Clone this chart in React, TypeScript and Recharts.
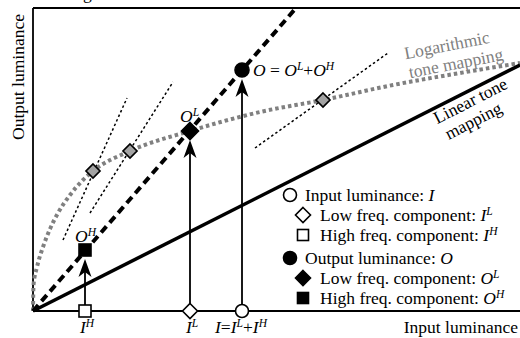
import React from 'react';
import { ComposedChart, Line, Scatter, XAxis, YAxis, ReferenceLine } from 'recharts';

const W = 520;
const H = 338;
const SERIF = "'Liberation Serif', 'Times New Roman', serif";
const FS = 17.5;
const GRAY = '#808080';

// axis extents (input luminance on x, output luminance on y)
const xMax = 487;
const yMax = 303;

const linearMap = [{ x: 0, y: 0 }, { x: 487, y: 246 }];
const combinedMap = [{ x: 0, y: 0 }, { x: 263, y: 303 }];
const logMap = [
    { x: 0, y: 0 }, { x: 0.5, y: 26 }, { x: 4, y: 44 }, { x: 10, y: 64 }, { x: 17, y: 82 },
    { x: 25, y: 98 }, { x: 37, y: 116 }, { x: 50, y: 131 }, { x: 60, y: 140 }, { x: 97, y: 160 },
    { x: 157, y: 180 }, { x: 227, y: 199 }, { x: 290, y: 211 }, { x: 360, y: 226 },
    { x: 427, y: 238 }, { x: 487, y: 248 },
];
const logSamples = [{ x: 60, y: 140 }, { x: 97, y: 160 }, { x: 290, y: 211 }];
const tangents = [
    [{ x: 30, y: 71 }, { x: 94, y: 213 }],
    [{ x: 57, y: 98 }, { x: 140, y: 229 }],
    [{ x: 222, y: 163 }, { x: 355, y: 258 }],
];
const inputs = [
    { id: 'IH', x: 52, y: 0 },
    { id: 'IL', x: 157, y: 0 },
    { id: 'I', x: 209, y: 0 },
];
const outputs = [
    { id: 'OH', x: 52, y: 61 },
    { id: 'OL', x: 157, y: 180 },
    { id: 'O', x: 209, y: 241 },
];

type Seg = string | { i: string } | { sup: string };

const Rich = ({ x, y, segs, anchor = 'start', fill = '#000', size = FS, transform }: any) => {
    let raised = false;
    return (
        <text x={x} y={y} textAnchor={anchor} fontFamily={SERIF} fontSize={size} fill={fill} transform={transform}>
            {segs.map((s: Seg, k: number) => {
                if (typeof s === 'string' || 'i' in s) {
                    const dy = raised ? 6 : 0;
                    raised = false;
                    const italic = typeof s !== 'string';
                    return (
                        <tspan key={k} dy={dy} fontStyle={italic ? 'italic' : 'normal'}>
                            {typeof s === 'string' ? s : s.i}
                        </tspan>
                    );
                }
                const dy = raised ? 0 : -6;
                raised = true;
                return (
                    <tspan key={k} dy={dy} fontSize={size * 0.66} fontStyle="italic">{s.sup}</tspan>
                );
            })}
        </text>
    );
};

const mark = (kind: string, cx: number, cy: number, r: number, fill: string, sw = 1.6) => {
    if (kind === 'circle') return <circle cx={cx} cy={cy} r={r} fill={fill} stroke="#000" strokeWidth={sw} />;
    if (kind === 'square')
        return <rect x={cx - r} y={cy - r} width={2 * r} height={2 * r} fill={fill} stroke="#000" strokeWidth={sw} />;
    return (
        <path
            d={`M${cx},${cy - r}L${cx + r},${cy}L${cx},${cy + r}L${cx - r},${cy}Z`}
            fill={fill} stroke="#000" strokeWidth={sw} strokeLinejoin="miter"
        />
    );
};

const labels: Record<string, Seg[]> = {
    IH: [{ i: 'I' }, { sup: 'H' }],
    IL: [{ i: 'I' }, { sup: 'L' }],
    I: [{ i: 'I' }, '=', { i: 'I' }, { sup: 'L' }, '+', { i: 'I' }, { sup: 'H' }],
    OH: [{ i: 'O' }, { sup: 'H' }],
    OL: [{ i: 'O' }, { sup: 'L' }],
    O: [{ i: 'O' }, ' = ', { i: 'O' }, { sup: 'L' }, '+', { i: 'O' }, { sup: 'H' }],
};

const InputMark = ({ cx, cy, payload }: any) => {
    const id = payload.id;
    const kind = id === 'IH' ? 'square' : id === 'IL' ? 'diamond' : 'circle';
    const r = id === 'IH' ? 6 : id === 'IL' ? 7.5 : 6.5;
    return (
        <g>
            {mark(kind, cx, cy, r, '#fff')}
            {id === 'I'
                ? <Rich x={cx - 27} y={cy + 22} segs={labels[id]} />
                : <Rich x={cx + 2} y={cy + 22} anchor="middle" segs={labels[id]} />}
        </g>
    );
};

const OutputMark = ({ cx, cy, payload }: any) => {
    const id = payload.id;
    const kind = id === 'OH' ? 'square' : id === 'OL' ? 'diamond' : 'circle';
    const r = id === 'OH' ? 6 : id === 'OL' ? 8.5 : 7;
    return (
        <g>
            {mark(kind, cx, cy, r, '#000')}
            {id === 'O'
                ? <Rich x={cx + 11} y={cy + 6} segs={labels[id]} />
                : <Rich x={cx - 10} y={cy - (id === 'OL' ? 9 : 8)} segs={labels[id]} />}
        </g>
    );
};

const ArrowHead = ({ cx, cy }: any) => (
    <path d={`M${cx},${cy + 9}L${cx + 6.5},${cy + 27}L${cx},${cy + 22}L${cx - 6.5},${cy + 27}Z`} fill="#000" />
);

const SampleMark = ({ cx, cy }: any) => mark('diamond', cx, cy, 7, '#a3a3a3', 1.7);

const legendRows = [
    { kind: 'circle', fill: '#fff', segs: ['Input luminance: ', { i: 'I' }] },
    { kind: 'diamond', fill: '#fff', segs: ['Low freq. component: ', { i: 'I' }, { sup: 'L' }] },
    { kind: 'square', fill: '#fff', segs: ['High freq. component: ', { i: 'I' }, { sup: 'H' }] },
    { kind: 'circle', fill: '#000', segs: ['Output luminance: ', { i: 'O' }] },
    { kind: 'diamond', fill: '#000', segs: ['Low freq. component: ', { i: 'O' }, { sup: 'L' }] },
    { kind: 'square', fill: '#000', segs: ['High freq. component: ', { i: 'O' }, { sup: 'H' }] },
];

const Overlay = () => (
    <svg width={W} height={H} style={{ position: 'absolute', left: 0, top: 0, pointerEvents: 'none' }}>
        <text x={83} y={-1} fontFamily={SERIF} fontSize={FS}>g</text>
        <text transform="translate(24,77) rotate(-90)" textAnchor="middle" fontFamily={SERIF} fontSize={FS}>
            Output luminance
        </text>
        <text x={518} y={333} textAnchor="end" fontFamily={SERIF} fontSize={FS}>Input luminance</text>
        <text transform="translate(448,51) rotate(-11)" textAnchor="middle" fontFamily={SERIF} fontSize={FS} fill={GRAY}>
            Logarithmic
        </text>
        <text transform="translate(457,69) rotate(-11)" textAnchor="middle" fontFamily={SERIF} fontSize={FS} fill={GRAY}>
            tone mapping
        </text>
        <text transform="translate(473,106) rotate(-27)" textAnchor="middle" fontFamily={SERIF} fontSize={FS}>
            Linear tone
        </text>
        <text transform="translate(476,126) rotate(-27)" textAnchor="middle" fontFamily={SERIF} fontSize={FS}>
            mapping
        </text>
        {legendRows.map((row, k) => {
            const base = 201 + k * 20 + (k >= 3 ? 3 : 0);
            const isCircle = row.kind === 'circle';
            const mx = isCircle ? 290 : 303;
            const r = isCircle ? 6.5 : row.kind === 'diamond' ? 7.5 : 5.5;
            return (
                <g key={k}>
                    {mark(row.kind, mx, base - 6, r, row.fill)}
                    <Rich x={isCircle ? 305 : 320} y={base} segs={row.segs} />
                </g>
            );
        })}
    </svg>
);

export default function App() {
    return (
        <div style={{ position: 'absolute', left: 0, top: 0, width: W, height: H, overflow: 'hidden', background: '#fff' }}>
            <ComposedChart width={W} height={H} margin={{ top: 8, right: 0, bottom: 27, left: 33 }}>
                <XAxis type="number" dataKey="x" domain={[0, xMax]} hide />
                <YAxis type="number" dataKey="y" domain={[0, yMax]} hide />
                <ReferenceLine x={0} stroke="#000" strokeWidth={1.8} />
                <ReferenceLine y={yMax} stroke="#000" strokeWidth={2} />
                <ReferenceLine y={0} stroke="#000" strokeWidth={2} />
                {tangents.map((seg, k) => (
                    <Line key={`t${k}`} data={seg} dataKey="y" type="linear" stroke="#000" strokeWidth={1.5}
                        strokeDasharray="2.5 2.5" dot={false} isAnimationActive={false} />
                ))}
                <Line data={logMap} dataKey="y" type="monotone" stroke={GRAY} strokeWidth={4}
                    strokeDasharray="3.5 3" dot={false} isAnimationActive={false} />
                <Line data={linearMap} dataKey="y" type="linear" stroke="#000" strokeWidth={3.5}
                    dot={false} isAnimationActive={false} />
                <Line data={combinedMap} dataKey="y" type="linear" stroke="#000" strokeWidth={4}
                    strokeDasharray="8 5" dot={false} isAnimationActive={false} />
                {outputs.map((p) => (
                    <Line key={`a${p.id}`} data={[{ x: p.x, y: 0 }, { x: p.x, y: p.y - 15 }]} dataKey="y"
                        type="linear" stroke="#000" strokeWidth={1.8} dot={false} isAnimationActive={false} />
                ))}
                <Scatter data={logSamples} dataKey="y" shape={<SampleMark />} isAnimationActive={false} />
                <Scatter data={outputs} dataKey="y" shape={<ArrowHead />} isAnimationActive={false} />
                <Scatter data={outputs} dataKey="y" shape={<OutputMark />} isAnimationActive={false} />
                <Scatter data={inputs} dataKey="y" shape={<InputMark />} isAnimationActive={false} />
            </ComposedChart>
            <Overlay />
        </div>
    );
}
